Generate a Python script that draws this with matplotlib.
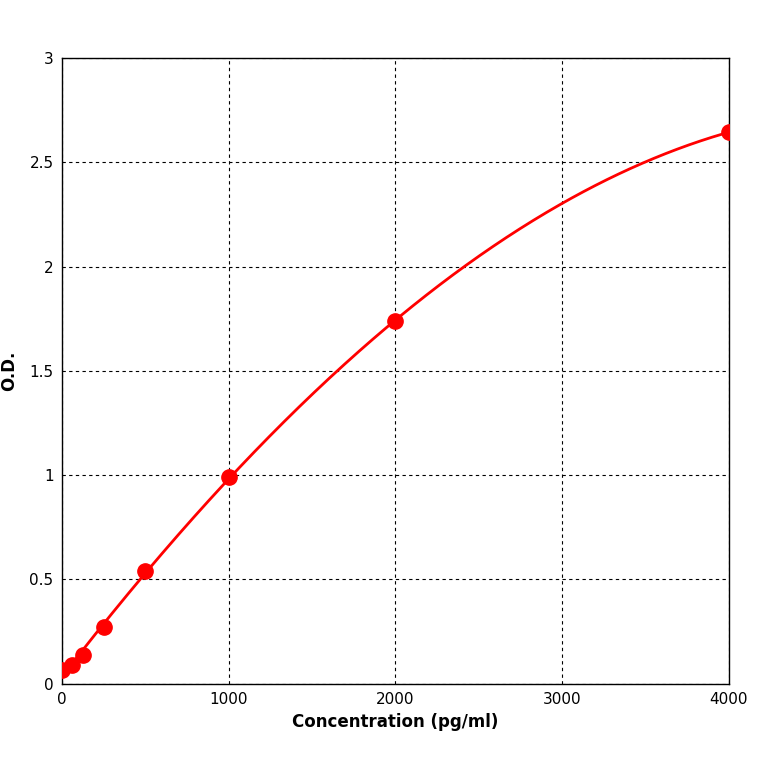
import numpy as np
import matplotlib
matplotlib.use("Agg")
import matplotlib.pyplot as plt

# standard points
conc = [0, 62.5, 125, 250, 500, 1000, 2000, 4000]
od = [0.065, 0.09, 0.14, 0.27, 0.54, 0.99, 1.74, 2.645]

x_ticks = [0, 1000, 2000, 3000, 4000]
y_ticks = [0, 0.5, 1, 1.5, 2, 2.5, 3]
y_tick_labels = ["0", "0.5", "1", "1.5", "2", "2.5", "3"]

fig = plt.figure(figsize=(7.64, 7.64), dpi=100)
ax = fig.add_axes([0.081, 0.105, 0.873, 0.819])

# fitted curve through the standards
coef = np.polyfit(conc, od, 3)
xs = np.linspace(0, max(conc), 400)
ax.plot(xs, np.polyval(coef, xs), color="red", linewidth=2, zorder=3)
ax.plot(conc, od, "o", color="red", markersize=11, zorder=4)

ax.set_xlim(0, 4000)
ax.set_ylim(0, 3)
ax.set_xticks(x_ticks)
ax.set_yticks(y_ticks)
ax.set_yticklabels(y_tick_labels)
ax.tick_params(labelsize=11, length=0, pad=6)
ax.grid(True, color="black", linestyle=(0, (3, 3)), linewidth=0.8)
for s in ax.spines.values():
    s.set_linewidth(1)

ax.set_xlabel("Concentration (pg/ml)", fontsize=12, fontweight="bold", labelpad=4)
ax.set_ylabel("O.D.", fontsize=12, fontweight="bold", labelpad=8)

fig.savefig("out.png", dpi=100)
